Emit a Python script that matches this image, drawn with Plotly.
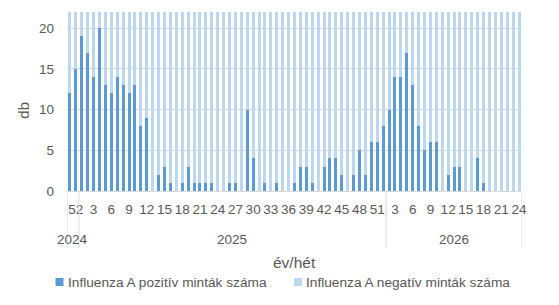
import plotly.graph_objects as go

# ---- data ----
years_2024_weeks = [51, 52]
years_2025_weeks = list(range(1, 53))
years_2026_weeks = list(range(2, 25))

year_labels = ["2024", "2025", "2026"]

pos_2024 = [12, 15]
pos_2025 = [19, 17, 14, 20, 13, 12, 14, 13, 12, 13, 8, 9, 0, 2, 3, 1, 0, 1, 3, 1,
            1, 1, 1, 0, 0, 1, 1, 0, 10, 4, 0, 1, 0, 1, 0, 0, 1, 3, 3, 1,
            0, 3, 4, 4, 2, 0, 2, 5, 2, 6, 6, 8]
pos_2026 = [10, 14, 14, 17, 13, 8, 5, 6, 6, 0, 2, 3, 3, 0, 0, 4, 1, 0, 0, 0, 0, 0, 0]

neg_2024 = [38, 41]
neg_2025 = [44, 40, 46, 39, 42, 45, 41, 43, 40, 38, 44, 39, 42, 36, 35, 37, 34, 33, 36, 35,
            32, 34, 31, 30, 33, 32, 31, 30, 34, 33, 32, 31, 30, 33, 32, 31, 34, 35, 33, 32,
            34, 36, 35, 37, 36, 38, 37, 39, 40, 41, 42, 43]
neg_2026 = [44, 45, 43, 46, 44, 42, 41, 40, 39, 38, 37, 36, 35, 34, 33, 32, 31, 30, 30, 29, 28, 28, 27]

pos_name = "Influenza A pozitív minták száma"
neg_name = "Influenza A negatív minták száma"

# ---- build categories ----
groups = [(year_labels[0], years_2024_weeks), (year_labels[1], years_2025_weeks),
          (year_labels[2], years_2026_weeks)]
cats, weeks, years = [], [], []
for y, wl in groups:
    for w in wl:
        cats.append(f"{y}-{w:02d}")
        weeks.append(w)
        years.append(y)
pos = pos_2024 + pos_2025 + pos_2026
neg = neg_2024 + neg_2025 + neg_2026

tickvals, ticktext = [], []
for c, w, y in zip(cats, weeks, years):
    if (y == "2024" and w == 52) or (y != "2024" and w % 3 == 0):
        tickvals.append(c)
        ticktext.append(str(w))

DARK = "#5B9BD5"
LIGHT = "#BDD7EE"
TXT = "#595959"
GRID = "#D9D9D9"
FONT = "Liberation Sans, Arial, sans-serif"

W, H = 559, 305
ML, MR, MT, MB = 67, 37, 12, 114
PW, PH = W - ML - MR, H - MT - MB


def px(x):
    return (x - ML) / PW


def py(y):
    return (H - MB - y) / PH


fig = go.Figure()
fig.add_bar(x=cats, y=pos, name=pos_name, marker_color=DARK, marker_line_width=0,
            showlegend=False)
fig.add_bar(x=cats, y=neg, name=neg_name, marker_color=LIGHT, marker_line_width=0,
            showlegend=False)

fig.update_layout(
    width=W, height=H,
    margin=dict(l=ML, r=MR, t=MT, b=MB, autoexpand=False),
    barmode="stack", bargap=0.5,
    plot_bgcolor="white", paper_bgcolor="white",
    font=dict(family=FONT, color=TXT, size=13),
    showlegend=False,
)
fig.update_xaxes(type="category", categoryorder="array", categoryarray=cats,
                 range=[-0.5, len(cats) - 0.5], autorange=False,
                 tickvals=tickvals, ticktext=ticktext,
                 tickangle=0, showline=True, linecolor=GRID, linewidth=1,
                 showgrid=False, ticks="", tickfont=dict(size=13.5, color=TXT),
                 ticklabelstandoff=6, automargin=False)
fig.update_yaxes(range=[0, 22], autorange=False, tickvals=[0, 5, 10, 15, 20], showgrid=True,
                 gridcolor=GRID, gridwidth=1, zeroline=False, showline=False,
                 tickfont=dict(size=13.5, color=TXT), ticklabelstandoff=12,
                 automargin=False)

# group dividers and labels
start = 0
for y, wl in groups:
    n = len(wl)
    fig.add_shape(type="line", xref="x", yref="paper", x0=start - 0.5, x1=start - 0.5,
                  y0=0, y1=py(248), line=dict(color=GRID, width=1))
    fig.add_annotation(x=start + (n - 1) / 2, xref="x", y=py(239), yref="paper",
                       text=y, showarrow=False, yanchor="middle",
                       font=dict(size=13.5, color=TXT))
    start += n
fig.add_shape(type="line", xref="x", yref="paper", x0=start - 0.5, x1=start - 0.5,
              y0=0, y1=py(248), line=dict(color=GRID, width=1))

fig.add_annotation(x=0.5, xref="paper", y=py(262), yref="paper", text="év/hét",
                   showarrow=False, yanchor="middle", font=dict(size=15.5, color=TXT))
fig.add_annotation(x=px(22.7), xref="paper", y=py(110), yref="paper", text="db",
                   textangle=-90, showarrow=False, xanchor="center", yanchor="middle",
                   font=dict(size=15, color=TXT))

# legend (manual, to match Excel layout)
for name, color, sx in [(pos_name, DARK, 55.5), (neg_name, LIGHT, 294)]:
    fig.add_shape(type="rect", xref="paper", yref="paper",
                  x0=px(sx), x1=px(sx + 8), y0=py(286), y1=py(278),
                  fillcolor=color, line=dict(width=0))
    fig.add_annotation(x=px(sx + 10), xref="paper", y=py(282), yref="paper",
                       text=name, showarrow=False, xanchor="left", yanchor="middle",
                       font=dict(size=13.7, color=TXT))

fig.write_html("out.html")
